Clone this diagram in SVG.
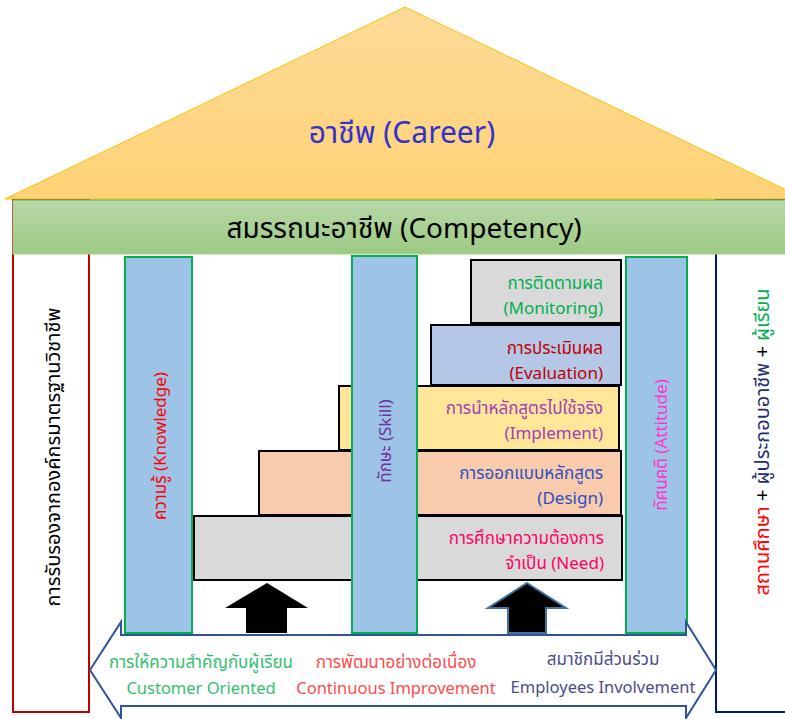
<svg xmlns="http://www.w3.org/2000/svg" width="785" height="719" viewBox="0 0 785 719">
<defs>
<linearGradient id="gRoof" x1="0" y1="0" x2="0" y2="1"><stop offset="0" stop-color="#FDDB98"/><stop offset="1" stop-color="#FED276"/></linearGradient>
<linearGradient id="gBar" x1="0" y1="0" x2="0" y2="1"><stop offset="0" stop-color="#B8D8A9"/><stop offset="1" stop-color="#9CCA83"/></linearGradient>
<style>
text{font-family:"Noto Sans","Noto Sans Thai","DejaVu Sans",sans-serif}
.pillar{fill:#9DC3E6;stroke:#00B050;stroke-width:2}
.step{stroke:#000;stroke-width:2}
.st{font-size:17px;text-anchor:end}
.bt{font-size:17px;text-anchor:middle}
.be{font-size:16.5px;text-anchor:middle}
.pl{font-size:17px;text-anchor:middle}
</style>
</defs>
<g id="roof">
<polygon points="5,199 405,7 805,199" fill="url(#gRoof)" stroke="#FFC000" stroke-width="1"/>
<text x="402" y="143" font-size="30" fill="#3333CC" text-anchor="middle">อาชีพ (Career)</text>
</g>
<g id="left-box">
<rect x="13" y="200" width="76" height="512" fill="#fff" stroke="#C00000" stroke-width="2"/>
<text transform="translate(60,457) rotate(-90)" font-size="20" fill="#000" text-anchor="middle">การรับรองจากองค์กรมาตรฐานวิชาชีพ</text>
</g>
<g id="right-box">
<rect x="716" y="200" width="80" height="512" fill="#fff" stroke="#001A66" stroke-width="2"/>
<text transform="translate(769,442) rotate(-90)" font-size="20" text-anchor="middle"><tspan fill="#FF0000">สถานศึกษา</tspan><tspan fill="#000"> + </tspan><tspan fill="#1F2F70">ผู้ประกอบอาชีพ</tspan><tspan fill="#000"> + </tspan><tspan fill="#00B050">ผู้เรียน</tspan></text>
</g>
<g id="competency">
<rect x="13" y="200" width="790" height="54" fill="url(#gBar)" stroke="#A9D18E" stroke-width="1"/>
<line x1="13" y1="200" x2="785" y2="200" stroke="#70AD47" stroke-width="1"/>
<text x="404" y="238" font-size="28" fill="#000" text-anchor="middle">สมรรถนะอาชีพ (Competency)</text>
</g>
<g id="step-need">
<rect class="step" x="194" y="516" width="428" height="64" fill="#D9D9D9"/>
<text class="st" x="604" y="544" fill="#FF0066">การศึกษาความต้องการ</text>
<text class="st" x="604" y="569" fill="#FF0066">จำเป็น (Need)</text>
</g>
<g id="step-design">
<rect class="step" x="259" y="451" width="362" height="64" fill="#F8CBAD"/>
<text class="st" x="603" y="479" fill="#2F4FC0">การออกแบบหลักสูตร</text>
<text class="st" x="603" y="504" fill="#2F4FC0">(Design)</text>
</g>
<g id="step-implement">
<rect class="step" x="339" y="386" width="280" height="64" fill="#FFE699"/>
<text class="st" x="603" y="414" fill="#A040B8">การนำหลักสูตรไปใช้จริง</text>
<text class="st" x="603" y="439" fill="#A040B8">(Implement)</text>
</g>
<g id="step-evaluation">
<rect class="step" x="431" y="325" width="190" height="60" fill="#B4C7E7"/>
<text class="st" x="603" y="354" fill="#C00000">การประเมินผล</text>
<text class="st" x="603" y="379" fill="#C00000">(Evaluation)</text>
</g>
<g id="step-monitoring">
<rect class="step" x="471" y="260" width="150" height="63" fill="#D9D9D9"/>
<text class="st" x="603" y="289" fill="#00B050">การติดตามผล</text>
<text class="st" x="603" y="314" fill="#00B050">(Monitoring)</text>
</g>
<g id="pillar-knowledge">
<rect class="pillar" x="125" y="257" width="67" height="376"/>
<text class="pl" transform="translate(166,446) rotate(-90)" fill="#FF0000">ความรู้ (Knowledge)</text>
</g>
<g id="pillar-skill">
<rect class="pillar" x="352" y="256" width="65" height="377"/>
<text class="pl" transform="translate(391,441) rotate(-90)" fill="#7030A0">ทักษะ (Skill)</text>
</g>
<g id="pillar-attitude">
<rect class="pillar" x="626" y="257" width="61" height="376"/>
<text class="pl" transform="translate(667,445) rotate(-90)" fill="#FF33CC">ทัศนคติ (Attitude)</text>
</g>
<g id="connectors">
<polygon points="267,583 308,608 287,608 287,633 246,633 246,608 225,608" fill="#000"/>
<polygon points="527,583 566,608 546,608 546,633 508,633 508,608 488,608" fill="#000" stroke="#41719C" stroke-width="2"/>
<polygon points="90,670 121,622 121,635 686,635 686,622 716,670 686,718 686,706 121,706 121,718" fill="#fff" stroke="#2F5597" stroke-width="2"/>
</g>
<g id="principles">
<text class="bt" x="201" y="668" fill="#33C070">การให้ความสำคัญกับผู้เรียน</text>
<text class="be" x="201" y="694" fill="#33C070">Customer Oriented</text>
<text class="bt" x="396" y="668" fill="#FF4B4B">การพัฒนาอย่างต่อเนื่อง</text>
<text class="be" x="396" y="694" fill="#FF4B4B">Continuous Improvement</text>
<text class="bt" x="603" y="665" fill="#4B4B8C">สมาชิกมีส่วนร่วม</text>
<text class="be" x="603" y="693" fill="#4B4B8C">Employees Involvement</text>
</g>
</svg>
